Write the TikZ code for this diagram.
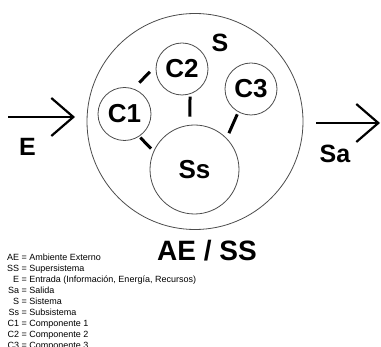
\documentclass[tikz,border=0pt]{standalone}
\usepackage{fontspec}
\setmainfont{Liberation Sans}
\usetikzlibrary{arrows.meta}

\begin{document}
\begin{tikzpicture}[x=1pt,y=1pt,yscale=-1,xscale=1,
  part/.style={draw=black!70,line width=0.8pt,circle,inner sep=0pt,outer sep=0pt,font=\fontsize{26}{30}\selectfont\bfseries},
  lbl/.style={inner sep=0pt,font=\fontsize{25}{30}\selectfont\bfseries},
  link/.style={line width=3pt},
  flow/.style={line width=2.2pt,-{Straight Barb[length=22pt,width=38pt]}}]
\useasboundingbox (0,0) rectangle (381,347);
% Circles
\node[part,minimum size=216pt] (sys) at (195,121.5) {};
\node[part,minimum size=89pt] (ss) at (194.5,169.5) {Ss};
\node[part,minimum size=53pt] (c1) at (124.5,114) {C1};
\node[part,minimum size=52pt] (c2) at (182,69) {C2};
\node[part,minimum size=52pt] (c3) at (251,89) {C3};
% Links
\draw[link,shorten <=8.8pt,shorten >=9pt] (c1.71) -- (c2.172);
\draw[link,shorten <=2pt,shorten >=4pt] (c1.-57) -- (ss.156);
\draw[link,shorten <=3pt,shorten >=8.5pt] (c2.-72) -- (ss.96);
\draw[link,shorten <=2.8pt,shorten >=5.9pt] (c3.241) -- (ss.44);
% Input and output
\coordinate (ein) at (8,117);
\coordinate (etip) at (75,117);
\coordinate (saout) at (316,123);
\coordinate (satip) at (380,123);
\draw[flow] (ein) -- (etip);
\draw[flow] (saout) -- (satip);
% Text Node
\node[lbl] (s) at (220,42.5) {S};
% Text Node
\node[lbl] (e) at (27.5,147) {E};
% Text Node
\node[lbl] (sa) at (335,153.5) {Sa};
% Text Node
\node[inner sep=0pt,anchor=base,font=\fontsize{28}{32}\selectfont\bfseries] (aess) at (207,261) {AE / SS};
% Legend
\node[anchor=north west,inner sep=0pt,font=\fontsize{9}{11}\selectfont] (legend) at (7,252.3) {%
  \begin{tabular}{@{}r@{ = }l@{}}
  AE & Ambiente Externo\\
  SS & Supersistema\\
  E & Entrada (Información, Energía, Recursos)\\
  Sa & Salida\\
  S & Sistema\\
  Ss & Subsistema\\
  C1 & Componente 1\\
  C2 & Componente 2\\
  C3 & Componente 3
  \end{tabular}};
\end{tikzpicture}
\end{document}
